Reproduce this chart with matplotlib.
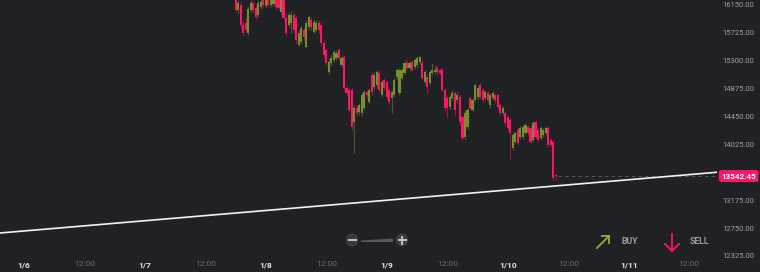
import matplotlib
matplotlib.use("Agg")
import matplotlib.pyplot as plt
import matplotlib.dates as mdates
from matplotlib.transforms import IdentityTransform, blended_transform_factory
from matplotlib.patches import Circle, Polygon
from matplotlib.lines import Line2D
import numpy as np
import pandas as pd

plt.rcParams['font.family'] = ['Roboto', 'DejaVu Sans']

# --- data (30 min candles) ---
first_candle = "2018-01-07 18:00"
opens = [16348, 16074, 16150, 15845, 15875, 15723, 16074, 16180, 16104, 15997,
         16119, 16226, 16135, 16226, 16150, 16165, 16272, 16226, 16043, 16226,
         15952, 15845, 15875, 15997, 15952, 15540, 15586, 15769, 15510, 15815,
         15921, 15738, 15769, 15875, 15845, 15571, 15464, 15129, 15266, 15312,
         15342, 15464, 15235, 15357, 14885, 14854, 14854, 14367, 14580, 14519,
         14504, 14580, 14824, 14672, 15083, 14900, 14931, 15113, 14778, 15007,
         14976, 14854, 14733, 14778, 15053, 14809, 15037, 15113, 15266, 15190,
         15281, 15205, 15235, 15281, 15266, 14976, 15053, 14961, 15113, 15129,
         15190, 15159, 15159, 14854, 14733, 14595, 14733, 14809, 14702, 14748,
         14443, 14138, 14291, 14733, 14550, 14702, 14748, 14931, 14854, 14733,
         14809, 14626, 14733, 14778, 14778, 14626, 14504, 14504, 14443, 14397,
         13970, 14062, 14245, 14138, 14138, 14199, 14291, 14275, 14092, 14367,
         14245, 14123, 14169, 14199, 14275, 14092, 14062, 13560]
highs = [16409, 16226, 16196, 15921, 15952, 16135, 16226, 16211, 16150, 16226,
         16256, 16272, 16287, 16272, 16302, 16287, 16317, 16287, 16272, 16272,
         16013, 16043, 16058, 16028, 15982, 15769, 15845, 15799, 15921, 15997,
         15967, 15936, 15921, 15921, 15891, 15616, 15494, 15342, 15388, 15464,
         15464, 15494, 15388, 15388, 14931, 14885, 14885, 14626, 14626, 14656,
         14824, 14854, 14854, 14885, 15129, 15129, 15159, 15159, 15007, 15037,
         15007, 14885, 14854, 15037, 15190, 15190, 15190, 15312, 15312, 15296,
         15312, 15342, 15373, 15388, 15312, 15159, 15098, 15159, 15266, 15235,
         15235, 15190, 15190, 14885, 14778, 14778, 14854, 14839, 14824, 14778,
         14473, 14550, 14595, 14763, 14733, 14961, 14915, 14961, 14885, 14854,
         14839, 14809, 14839, 14809, 14809, 14656, 14611, 14534, 14473, 14428,
         14199, 14230, 14275, 14306, 14321, 14352, 14321, 14306, 14382, 14397,
         14275, 14306, 14275, 14306, 14306, 14123, 14092, 13575]
lows = [16043, 16013, 15799, 15677, 15723, 15693, 16043, 16028, 15936, 15967,
        16089, 16104, 16104, 16119, 16119, 16135, 16089, 16074, 16013, 15921,
        15693, 15815, 15723, 15723, 15571, 15525, 15555, 15616, 15494, 15769,
        15769, 15708, 15738, 15723, 15540, 15342, 15220, 15098, 15220, 15281,
        15312, 15312, 15205, 14854, 14778, 14519, 14245, 13894, 14458, 14473,
        14458, 14550, 14733, 14641, 14778, 14854, 14885, 14824, 14748, 14854,
        14702, 14641, 14504, 14748, 15007, 14778, 15007, 15083, 15159, 15159,
        15129, 15174, 15205, 15251, 15007, 14946, 14809, 14931, 15083, 15098,
        15083, 15083, 14824, 14519, 14428, 14550, 14702, 14473, 14656, 14321,
        14092, 14108, 14260, 14550, 14519, 14672, 14702, 14717, 14672, 14702,
        14672, 14580, 14702, 14656, 14565, 14473, 14473, 14321, 14245, 13788,
        13940, 14031, 14016, 14108, 14108, 14169, 14169, 14031, 14062, 14108,
        14062, 14092, 14138, 14169, 13986, 13986, 13483, 13483]
closes = [16074, 16180, 15845, 15723, 15769, 16089, 16180, 16074, 15967, 16180,
          16196, 16150, 16226, 16150, 16256, 16241, 16119, 16104, 16226, 15952,
          15723, 15997, 15997, 15769, 15616, 15723, 15799, 15662, 15875, 15967,
          15815, 15891, 15875, 15769, 15571, 15388, 15266, 15281, 15342, 15434,
          15418, 15342, 15342, 14885, 14809, 14550, 14291, 14580, 14504, 14626,
          14778, 14824, 14778, 14854, 14824, 15083, 15129, 14854, 14976, 14885,
          14748, 14672, 14824, 15007, 15159, 15159, 15159, 15266, 15190, 15266,
          15159, 15312, 15342, 15357, 15037, 15129, 14900, 15129, 15159, 15159,
          15129, 15113, 14854, 14580, 14580, 14748, 14809, 14550, 14778, 14367,
          14123, 14504, 14550, 14580, 14702, 14931, 14885, 14748, 14702, 14824,
          14702, 14778, 14809, 14702, 14595, 14504, 14580, 14352, 14275, 14199,
          14169, 14199, 14047, 14275, 14291, 14321, 14199, 14062, 14352, 14138,
          14092, 14275, 14245, 14275, 14016, 14016, 13513, 13542.45]

# hand drawn trend line, two anchor points
trend_times = ["2018-01-06 00:00", "2018-01-11 12:00"]
trend_prices = [12706, 13565]

day_ticks = ["2018-01-06", "2018-01-07", "2018-01-08", "2018-01-09", "2018-01-10", "2018-01-11"]
day_labels = ["1/6", "1/7", "1/8", "1/9", "1/10", "1/11"]
price_ticks = [12325, 12750, 13175, 13600, 14025, 14450, 14875, 15300, 15725, 16150]

bg = "#202125"
pink = "#ff1468"
green = "#73902a"

fig = plt.figure(figsize=(7.6, 2.72), dpi=100, facecolor=bg)
ax = fig.add_axes([0, 14 / 272, 717 / 760, 258 / 272])
ax.set_facecolor(bg)

times = pd.date_range(first_candle, periods=len(closes), freq="30min")
t = mdates.date2num(times)
o = np.array(opens, dtype=float)
c = np.array(closes, dtype=float)
up = c >= o
cols = np.where(up, green, pink)
w = 0.42 / 24

ax.vlines(t, lows, highs, colors=cols, linewidth=0.8, alpha=0.5, zorder=2)
body_h = np.maximum(np.abs(c - o), 8)
ax.bar(t, body_h, bottom=np.minimum(o, c), width=w, color=cols, linewidth=0, zorder=3)

# trend line
tt = mdates.date2num(pd.to_datetime(trend_times))
ax.axline((tt[0], trend_prices[0]), (tt[1], trend_prices[1]), color="#f2f2f2",
          linewidth=1.2, zorder=4)

# last price dashed line + badge
x0 = mdates.date2num(pd.Timestamp("2018-01-06"))
ax.set_xlim(x0 - 4.76 / 24, x0 + 137.5 / 24)
ax.set_ylim(12294, 16226)
ax.hlines(closes[-1], t[-1] + w, ax.get_xlim()[1], colors="#55565c",
          linestyles=(0, (3, 3)), linewidth=0.8, zorder=2)
trans = blended_transform_factory(ax.transAxes, ax.transData)
ax.text(1.006, closes[-1], f"{closes[-1]:.2f}", transform=trans, ha="left", va="center",
        color="white", fontsize=5.8, fontweight="bold", clip_on=False, zorder=10,
        bbox=dict(boxstyle="round,pad=0.3,rounding_size=0.25", fc=pink, ec="none"))

# axes styling
for s in ax.spines.values():
    s.set_visible(False)
ax.yaxis.tick_right()
ax.set_yticks(price_ticks)
ax.set_yticklabels([f"{v:.2f}" for v in price_ticks])
ax.tick_params(axis="y", length=0, pad=4, labelsize=5.5, labelcolor="#a0a1a5")

xt, xl = [], []
for d, lab in zip(day_ticks, day_labels):
    xt += [mdates.date2num(pd.Timestamp(d)), mdates.date2num(pd.Timestamp(d) + pd.Timedelta(hours=12))]
    xl += [lab, "12:00"]
ax.set_xticks(xt)
ax.set_xticklabels(xl)
ax.tick_params(axis="x", length=0, pad=2.5, labelsize=6)
for lbl in ax.get_xticklabels():
    if lbl.get_text() == "12:00":
        lbl.set_color("#6b6c70")
    else:
        lbl.set_color("#e6e6e6")
        lbl.set_fontweight("bold")

# zoom controls (figure pixels)
px = IdentityTransform()
H = 272
for cx in (352, 402):
    fig.add_artist(Circle((cx, H - 240), 6.5, transform=px, fc="#3a3b40", ec="none"))
fig.add_artist(Line2D([348.5, 355.5], [H - 240, H - 240], transform=px, color="#c4c4c4", lw=1.4))
fig.add_artist(Line2D([398.5, 405.5], [H - 240, H - 240], transform=px, color="#c4c4c4", lw=1.4))
fig.add_artist(Line2D([402, 402], [H - 236.5, H - 243.5], transform=px, color="#c4c4c4", lw=1.4))
fig.add_artist(Polygon([(361, H - 242), (393, H - 242), (393, H - 238.5), (361, H - 240.5)],
                       closed=True, transform=px, fc="#56575c", ec="none"))

# buy / sell
fig.add_artist(Line2D([597, 609], [H - 248, H - 236], transform=px, color="#8cb433", lw=1.3))
fig.add_artist(Line2D([602, 609, 609], [H - 236, H - 236, H - 243], transform=px, color="#8cb433", lw=1.3))
fig.add_artist(Line2D([672, 672], [H - 234, H - 251], transform=px, color=pink, lw=1.3))
fig.add_artist(Line2D([665, 672, 679], [H - 244, H - 251, H - 244], transform=px, color=pink, lw=1.3))
fig.text(622 / 760, 1 - 242 / H, "BUY", color="#9a9ba0", fontsize=6.3, fontweight="bold",
         ha="left", va="center")
fig.text(690 / 760, 1 - 242 / H, "SELL", color="#9a9ba0", fontsize=6.3, fontweight="bold",
         ha="left", va="center")

fig.savefig("out.png", dpi=100, facecolor=bg)
